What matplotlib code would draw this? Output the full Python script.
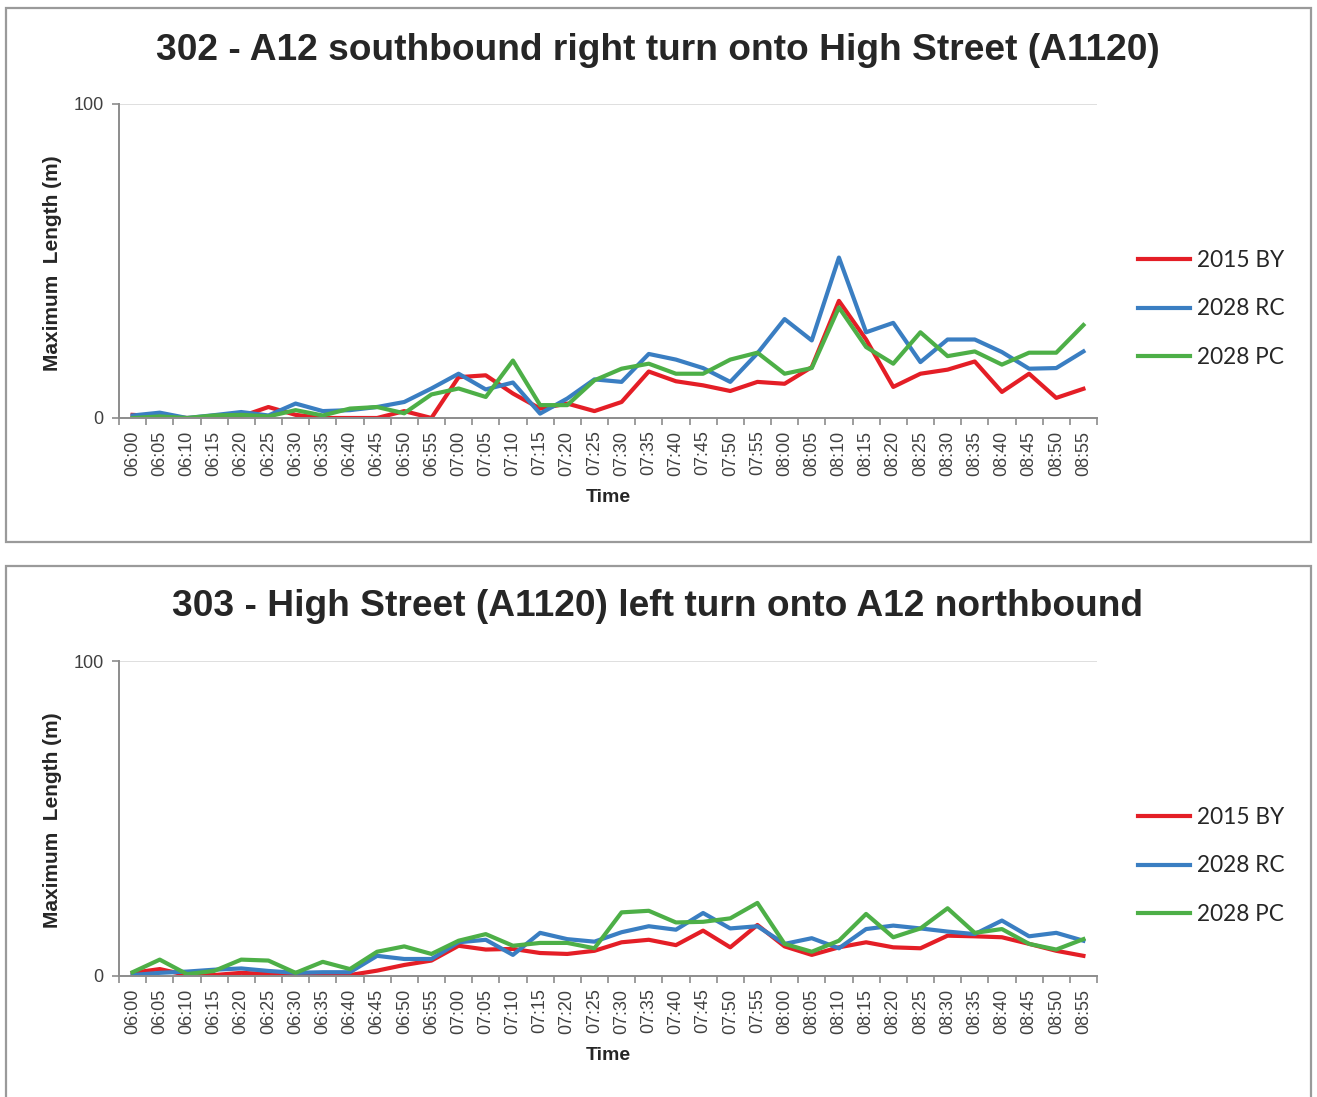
import matplotlib
matplotlib.use("Agg")
import matplotlib.pyplot as plt
from matplotlib.patches import Rectangle

RED = "#E41E26"
BLUE = "#3A7EC2"
GREEN = "#4DAF47"
GRAY_AX = "#8C8C8C"
GRID = "#D9D9D9"
TXT = "#262626"

times = [f"{h:02d}:{m:02d}" for h in (6, 7, 8) for m in range(0, 60, 5)]
series_names = ["2015 BY", "2028 RC", "2028 PC"]

# 302 - A12 southbound right turn onto High Street (A1120)
by_302 = [1.0, 0.5, 0, 0, 0.5, 3.5, 1.0, 0, 0, 0, 2.2, 0,
          13.0, 13.6, 7.8, 3.0, 4.6, 2.2, 5.1, 14.8, 11.7, 10.4, 8.6, 11.5,
          10.9, 16.2, 37.3, 25.0, 9.9, 14.1, 15.4, 18.0, 8.3, 14.1, 6.4, 9.3]
rc_302 = [0.8, 1.7, 0, 0.9, 1.9, 0.8, 4.6, 2.2, 2.5, 3.5, 5.1, 9.4,
          14.1, 9.1, 11.3, 1.4, 6.2, 12.3, 11.5, 20.4, 18.6, 15.9, 11.5, 20.6,
          31.5, 24.7, 51.1, 27.3, 30.3, 17.8, 25.0, 25.0, 21.0, 15.7, 15.9, 21.2]
pc_302 = [0, 0.5, 0, 0.8, 1.0, 0.5, 2.5, 0.8, 3.0, 3.5, 1.5, 7.5,
          9.4, 6.7, 18.3, 4.1, 4.1, 12.0, 15.7, 17.3, 14.1, 14.1, 18.6, 20.8,
          14.1, 15.9, 35.2, 22.6, 17.3, 27.3, 19.7, 21.2, 17.0, 20.8, 20.8, 29.6]

# 303 - High Street (A1120) left turn onto A12 northbound
by_303 = [1.0, 2.2, 0.3, 0.3, 1.0, 0.6, 0.3, 0.6, 0.3, 1.7, 3.5, 4.9,
          9.6, 8.4, 8.6, 7.3, 7.0, 8.0, 10.7, 11.5, 9.8, 14.4, 9.1, 16.2,
          9.4, 6.7, 9.1, 10.7, 9.1, 8.8, 12.8, 12.6, 12.3, 10.2, 8.0, 6.4]
rc_303 = [0.3, 1.0, 1.4, 2.0, 2.4, 1.6, 1.0, 1.2, 1.2, 6.4, 5.4, 5.4,
          10.7, 11.5, 6.7, 13.7, 11.7, 10.9, 13.9, 15.8, 14.7, 20.0, 15.1, 15.8,
          10.2, 12.0, 8.8, 14.9, 16.0, 15.1, 14.1, 13.3, 17.6, 12.6, 13.7, 11.2]
pc_303 = [1.2, 5.2, 0.6, 1.6, 5.2, 4.9, 1.0, 4.5, 2.2, 7.7, 9.4, 7.0,
          11.2, 13.3, 9.6, 10.5, 10.5, 8.8, 20.2, 20.7, 17.0, 17.2, 18.3, 23.2,
          10.2, 7.7, 11.2, 19.7, 12.3, 15.1, 21.5, 13.7, 14.9, 10.2, 8.4, 11.7]

panels = [
    ("302 - A12 southbound right turn onto High Street (A1120)", [by_302, rc_302, pc_302]),
    ("303 - High Street (A1120) left turn onto A12 northbound", [by_303, rc_303, pc_303]),
]

W, H = 1317, 1097
fig = plt.figure(figsize=(W / 100, H / 100), dpi=100)


def fx(px):
    return px / W


def fy(py):
    return 1 - py / H


# per panel (pixels): box top, box bottom, axes top, axes bottom, title y, "Time" y, legend centre y
layout = [(8, 542, 104, 418, 50, 498, 309), (566, 1110, 661, 976, 607, 1056, 866)]
colors = [RED, BLUE, GREEN]

for (title, data), (btop, bbot, atop, abot, ty, xly, lgy) in zip(panels, layout):
    fig.patches.append(Rectangle((fx(6), fy(bbot)), fx(1311) - fx(6), fy(btop) - fy(bbot),
                                 transform=fig.transFigure, fill=False,
                                 edgecolor="#9A9A9A", linewidth=1.6))
    fig.text(fx(658), fy(ty), title, ha="center", va="center", fontsize=26.7,
             fontweight="bold", color=TXT, family="Liberation Sans")

    ax = fig.add_axes([fx(119), fy(abot), fx(1097) - fx(119), fy(atop) - fy(abot)])
    x = list(range(len(times)))
    handles = []
    for vals, c, name in zip(data, colors, series_names):
        ln, = ax.plot(x, vals, color=c, linewidth=3.0, label=name)
        handles.append(ln)
    ax.set_xlim(-0.5, len(times) - 0.5)
    ax.set_ylim(0, 100)
    ax.axhline(100, color=GRID, linewidth=1.2, zorder=0)
    ax.set_yticks([0, 100])
    ax.set_yticklabels(["0", "100"], fontsize=13, color="#404040", family="Liberation Sans")
    ax.set_xticks(x)
    ax.set_xticklabels(times, rotation=90, fontsize=13, color="#404040",
                       family="Liberation Sans")
    ax.set_xticks([i - 0.5 for i in range(len(times) + 1)], minor=True)
    ax.tick_params(axis="x", which="major", length=0, pad=9)
    ax.tick_params(axis="x", which="minor", length=5, color=GRAY_AX, width=1.2)
    ax.tick_params(axis="y", length=5, color=GRAY_AX, width=1.2, pad=6)
    for s in ["top", "right"]:
        ax.spines[s].set_visible(False)
    for s in ["left", "bottom"]:
        ax.spines[s].set_color(GRAY_AX)
        ax.spines[s].set_linewidth(1.4)

    fig.text(fx(53), fy((atop + abot) / 2 + 2), "Maximum  Length (m)", rotation=90,
             ha="center", va="center", fontsize=15, fontweight="bold", color=TXT,
             family="Liberation Sans")
    fig.text(fx(608), fy(xly), "Time", ha="center", va="center", fontsize=14,
             fontweight="bold", color=TXT, family="Liberation Sans")

    fig.legend(handles=handles, loc="center left",
               bbox_to_anchor=(fx(1118), fy(lgy)), frameon=False,
               prop={"family": "Lato", "size": 16.3}, handlelength=2.3,
               handletextpad=0.27, labelspacing=1.22, labelcolor=TXT)

fig.savefig("out.png", dpi=100)
